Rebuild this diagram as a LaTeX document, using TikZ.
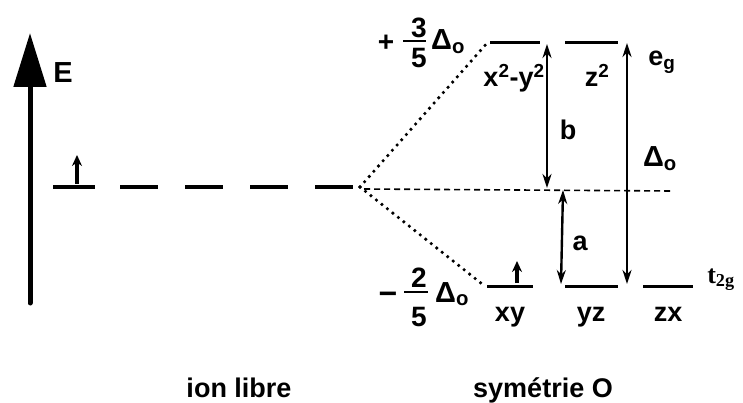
\documentclass[tikz,border=0pt]{standalone}
\usepackage{fontspec}
\setmainfont{Liberation Sans}
\newfontfamily\termfont{Liberation Serif}
\usetikzlibrary{arrows.meta}

\tikzset{
  level/.style={line width=3pt},
  split/.style={line width=3.6pt, line cap=round, dash pattern=on 0pt off 7pt},
  gap/.style={line width=2.4pt, {Stealth[length=14pt,width=9pt]}-{Stealth[length=14pt,width=9pt]}},
  spin/.style={line width=3.2pt, -{Stealth[length=11pt,width=10pt]}},
  lab/.style={font=\fontsize{27}{29}\selectfont\bfseries, inner sep=0pt, anchor=base},
  coef/.style={font=\fontsize{28}{30}\selectfont\bfseries, inner sep=0pt, anchor=base},
}

\begin{document}
\begin{tikzpicture}[x=1pt, y=-1pt, >=Stealth]
    \useasboundingbox (0,0) rectangle (743,403);

    % Energy axis
    \coordinate (Ebot) at (30,303);
    \coordinate (Etop) at (30,33);
    \draw[line width=5pt, line cap=round, -{Triangle[length=54pt,width=32pt]}] (Ebot) -- (Etop);
    \node[lab, font=\fontsize{29}{31}\selectfont\bfseries] (E) at (63,83) {E};

    % Free ion level
    \coordinate (ionL) at (53,187);
    \coordinate (ionR) at (95,187);
    \draw[level, line width=3.5pt] (ionL) -- (ionR);
    \coordinate (ionS) at (77,184);
    \coordinate (ionT) at (77,155);
    \draw[spin] (ionS) -- (ionT);
    \coordinate (dash0) at (120,187);
    \coordinate (C) at (360,187);
    \draw[level, line width=3.5pt, dash pattern=on 38pt off 27pt] (dash0) -- (C);

    % Splitting lines
    \coordinate (egL) at (488,42);
    \coordinate (tL) at (482,284);
    \draw[split] (C) -- (egL);
    \draw[split] (C) -- (tL);

    % Barycentre
    \coordinate (bary0) at (364,189);
    \coordinate (bary1) at (672,191);
    \draw[line width=1.6pt, dash pattern=on 6pt off 4pt] (bary0) -- (bary1);

    % e_g levels
    \coordinate (x2a) at (490,43);
    \coordinate (x2b) at (540,43);
    \coordinate (z2a) at (565,43);
    \coordinate (z2b) at (618,43);
    \draw[level] (x2a) -- (x2b);
    \draw[level] (z2a) -- (z2b);
    \node[lab] (x2y2) at (514,87) {x\textsuperscript{2}-y\textsuperscript{2}};
    \node[lab] (z2) at (597,87) {z\textsuperscript{2}};
    \node[lab] (eg) at (662,66) {e\textsubscript{g}};

    % t_2g levels
    \coordinate (xya) at (487,286);
    \coordinate (xyb) at (533,286);
    \coordinate (yza) at (565,286);
    \coordinate (yzb) at (618,286);
    \coordinate (zxa) at (643,286);
    \coordinate (zxb) at (693,286);
    \draw[level] (xya) -- (xyb);
    \draw[level] (yza) -- (yzb);
    \draw[level] (zxa) -- (zxb);
    \coordinate (xyS) at (517,283);
    \coordinate (xyT) at (517,261);
    \draw[spin] (xyS) -- (xyT);
    \node[lab] (xy) at (510,321) {xy};
    \node[lab] (yz) at (591,321) {yz};
    \node[lab] (zx) at (668,321) {zx};
    \node[font=\termfont\bfseries\fontsize{26}{28}\selectfont, inner sep=0pt, anchor=base] (t2g) at (721,283) {t\textsubscript{2g}};

    % +3/5 Delta_o
    \node[coef] (plus) at (386,52) {+};
    \node[coef] (num3) at (419,38) {3};
    \node[coef] (den5a) at (419,68) {5};
    \coordinate (bar3a) at (403,41);
    \coordinate (bar3b) at (426,41);
    \draw[line width=2.4pt] (bar3a) -- (bar3b);
    \node[lab, font=\fontsize{29}{31}\selectfont\bfseries, anchor=base west] (Dup) at (431,50) {Δ\textsubscript{o}};

    % -2/5 Delta_o
    \node[coef, font=\fontsize{32}{34}\selectfont\bfseries] (minus) at (388,304) {−};
    \node[coef] (num2) at (419,287) {2};
    \node[coef] (den5b) at (419,326) {5};
    \coordinate (bar2a) at (404,292);
    \coordinate (bar2b) at (428,292);
    \draw[line width=2.4pt] (bar2a) -- (bar2b);
    \node[lab, font=\fontsize{29}{31}\selectfont\bfseries, anchor=base west] (Ddn) at (435,302) {Δ\textsubscript{o}};

    % Gaps
    \coordinate (b1) at (547,188);
    \coordinate (b2) at (547,44);
    \draw[gap] (b1) -- (b2);
    \node[lab] (b) at (568,140) {b};
    \coordinate (a1) at (563,190);
    \coordinate (a2) at (561,284);
    \draw[gap] (a1) -- (a2);
    \node[lab] (a) at (580,250) {a};
    \coordinate (D1) at (627,43);
    \coordinate (D2) at (627,284);
    \draw[gap] (D1) -- (D2);
    \node[lab, font=\fontsize{29}{31}\selectfont\bfseries] (Do) at (660,167) {Δ\textsubscript{o}};

    % Captions
    \node[lab] (ion) at (239,397) {ion libre};
    \node[lab] (sym) at (543,397) {symétrie O};
\end{tikzpicture}
\end{document}
